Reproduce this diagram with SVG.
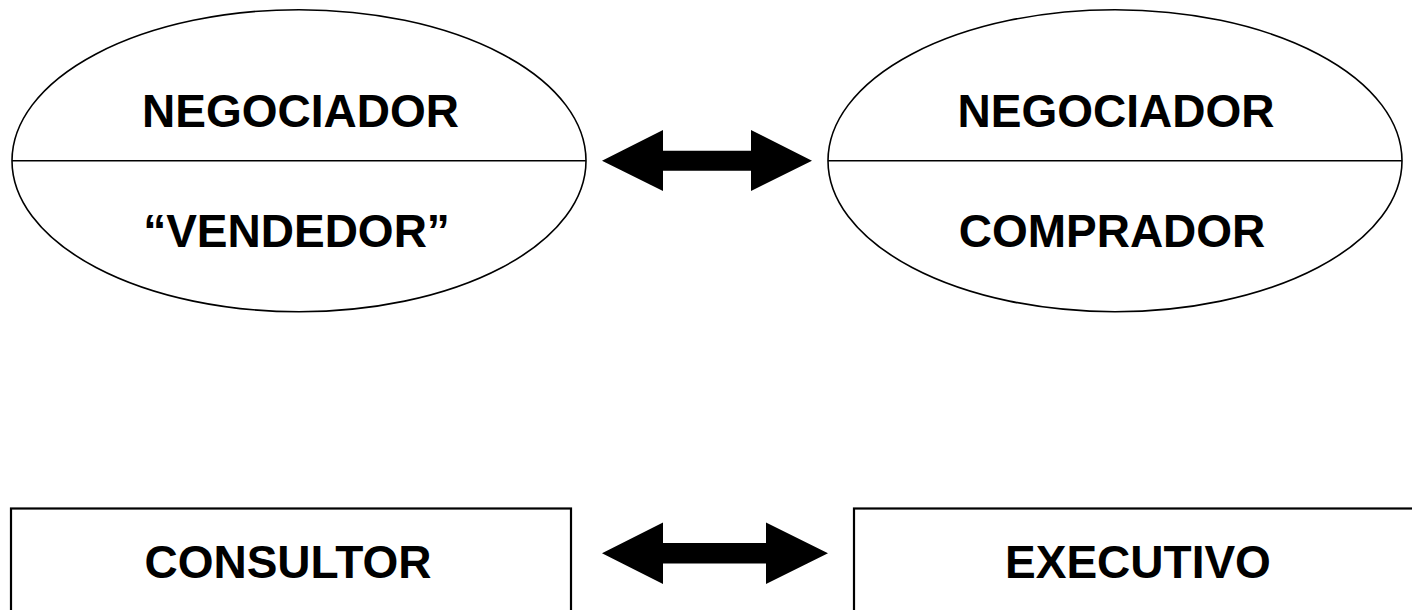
<svg xmlns="http://www.w3.org/2000/svg" width="1412" height="610" viewBox="0 0 1412 610">
<style>
.shape{fill:#fff;stroke:#000;stroke-width:1.6}
.box{fill:#fff;stroke:#000;stroke-width:2.2}
.lbl{font-family:"Liberation Sans",Arial,sans-serif;font-weight:bold;font-size:46px;fill:#000;text-anchor:middle}
.arrow{fill:#000;stroke:none}
</style>
<rect width="1412" height="610" fill="#fff"/>
<g id="node-vendedor">
<ellipse class="shape" cx="299" cy="160.7" rx="287" ry="151"/>
<line class="shape" x1="12" y1="160.7" x2="586" y2="160.7"/>
<text class="lbl" x="300.5" y="127">NEGOCIADOR</text>
<text class="lbl" x="296.5" y="247">“VENDEDOR”</text>
</g>
<g id="node-comprador">
<ellipse class="shape" cx="1115" cy="160.7" rx="287" ry="151"/>
<line class="shape" x1="828" y1="160.7" x2="1402" y2="160.7"/>
<text class="lbl" x="1116" y="127">NEGOCIADOR</text>
<text class="lbl" x="1112" y="247">COMPRADOR</text>
</g>
<g id="node-consultor">
<rect class="box" x="11" y="508.5" width="560" height="120"/>
<text class="lbl" x="288" y="578">CONSULTOR</text>
</g>
<g id="node-executivo">
<rect class="box" x="854" y="508.5" width="600" height="120"/>
<text class="lbl" x="1138" y="578">EXECUTIVO</text>
</g>
<g id="connectors">
<polygon class="arrow" points="602,160.7 663,130 663,150.7 751,150.7 751,130 812,160.7 751,191 751,170.7 663,170.7 663,191"/>
<polygon class="arrow" points="602,553.3 663,522.5 663,543 766,543 766,522.5 828,553.3 766,584 766,563.5 663,563.5 663,584"/>
</g>
</svg>
